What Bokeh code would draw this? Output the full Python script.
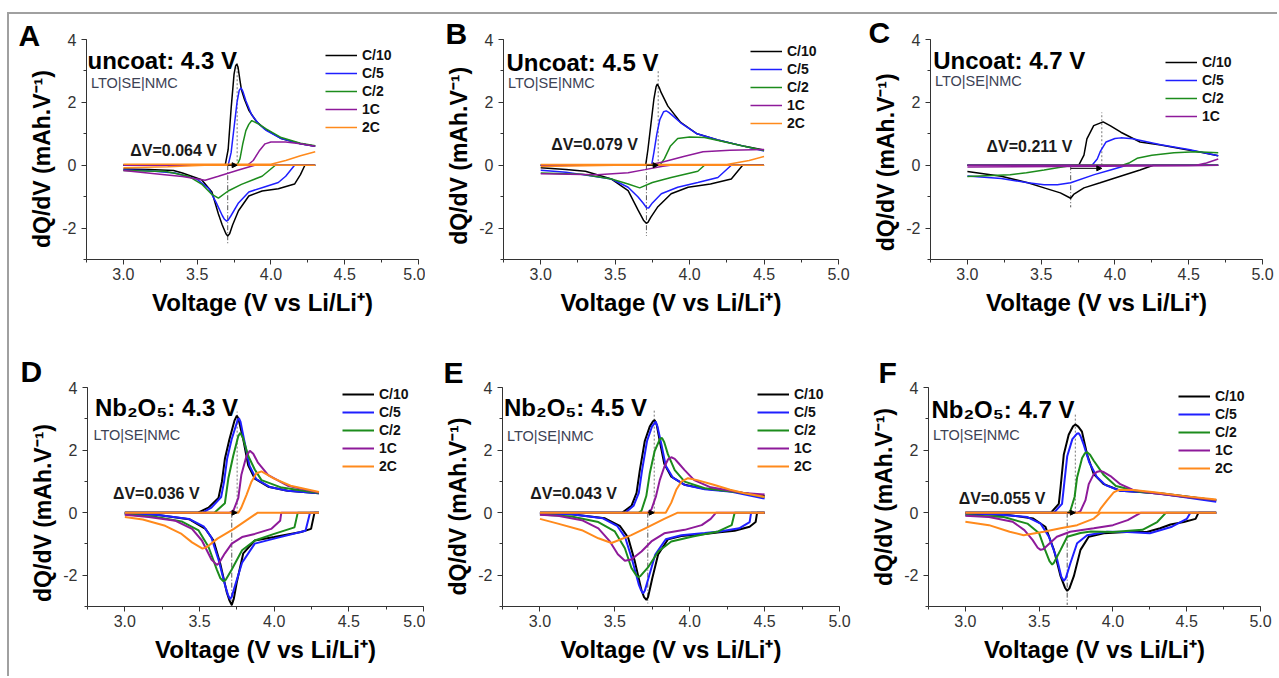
from bokeh.plotting import figure
from bokeh.layouts import row, column
from bokeh.models import (Range1d, SingleIntervalTicker, NumeralTickFormatter, Label, Title,
                          Legend, LegendItem, Arrow, NormalHead)
from bokeh.embed import file_html
from bokeh.resources import INLINE

# ---------------- data (V vs Li/Li+, dQ/dV in mAh/V) ----------------
RATES = ["C/10", "C/5", "C/2", "1C", "2C"]

# Panel A : uncoat 4.3 V
A_C10_chg = [(3.0,0),(3.69,0),(3.71,0.5),(3.73,1.8),(3.75,2.9),(3.76,3.15),(3.768,3.22),(3.777,3.12),(3.79,2.7),(3.80,2.4),(3.82,2.1),(3.85,1.75),(3.9,1.4),(3.96,1.15),(4.07,0.85),(4.2,0.68),(4.3,0.6)]
A_C10_dis = [(4.3,0),(4.23,0),(4.2,-0.3),(4.16,-0.6),(4.05,-0.75),(3.94,-0.82),(3.85,-0.98),(3.78,-1.45),(3.74,-1.9),(3.72,-2.18),(3.707,-2.25),(3.695,-2.18),(3.67,-1.9),(3.644,-1.55),(3.6,-0.85),(3.53,-0.46),(3.4,-0.25),(3.34,-0.17),(3.17,-0.14),(3.0,-0.12)]
A_C5_chg = [(3.0,0),(3.71,0),(3.73,0.4),(3.75,1.2),(3.77,2.0),(3.785,2.38),(3.797,2.46),(3.81,2.35),(3.83,2.05),(3.87,1.6),(3.92,1.3),(3.97,1.1),(4.07,0.85),(4.2,0.68),(4.3,0.6)]
A_C5_dis = [(4.3,0),(4.16,0),(4.1,-0.35),(4.05,-0.55),(3.95,-0.7),(3.85,-0.85),(3.78,-1.2),(3.73,-1.6),(3.71,-1.75),(3.70,-1.78),(3.685,-1.72),(3.67,-1.6),(3.63,-1.2),(3.58,-0.75),(3.5,-0.45),(3.35,-0.25),(3.15,-0.17),(3.0,-0.15)]
A_C2_chg = [(3.0,0),(3.77,0),(3.79,0.2),(3.81,0.7),(3.83,1.1),(3.85,1.3),(3.87,1.42),(3.92,1.3),(3.97,1.15),(4.07,0.88),(4.2,0.7),(4.3,0.62)]
A_C2_dis = [(4.3,0),(4.03,0),(3.94,-0.35),(3.8,-0.61),(3.71,-0.82),(3.644,-1.05),(3.60,-0.93),(3.53,-0.6),(3.44,-0.35),(3.29,-0.2),(3.0,-0.17)]
A_1C_chg = [(3.0,0),(3.84,0),(3.88,0.15),(3.92,0.45),(3.96,0.68),(4.0,0.74),(4.1,0.74),(4.2,0.68),(4.3,0.6)]
A_1C_dis = [(4.3,0),(3.89,0),(3.78,-0.15),(3.644,-0.35),(3.554,-0.48),(3.4,-0.36),(3.28,-0.3),(3.0,-0.17)]
A_2C_chg = [(3.0,0.03),(4.0,0.03),(4.1,0.15),(4.2,0.3),(4.3,0.43)]
A_2C_dis = [(4.3,0),(3.55,0),(3.3,-0.05),(3.0,-0.08)]

# Panel B : uncoat 4.5 V
B_C10_chg = [(3.0,0),(3.705,0),(3.72,0.5),(3.74,1.3),(3.76,2.1),(3.775,2.5),(3.783,2.58),(3.795,2.48),(3.81,2.3),(3.854,1.88),(3.94,1.36),(4.05,1.0),(4.19,0.8),(4.37,0.6),(4.5,0.48)]
B_C10_dis = [(4.5,0),(4.356,0),(4.28,-0.44),(4.14,-0.6),(3.99,-0.7),(3.876,-0.91),(3.787,-1.32),(3.74,-1.65),(3.72,-1.82),(3.709,-1.85),(3.69,-1.75),(3.654,-1.43),(3.587,-0.81),(3.475,-0.44),(3.3,-0.19),(3.17,-0.14),(3.0,-0.08)]
B_C5_chg = [(3.0,0),(3.745,0),(3.76,0.4),(3.78,1.0),(3.80,1.45),(3.825,1.7),(3.843,1.73),(3.86,1.68),(3.88,1.6),(3.94,1.35),(4.05,1.0),(4.19,0.8),(4.37,0.6),(4.5,0.45)]
B_C5_dis = [(4.5,0),(4.28,0),(4.19,-0.39),(4.055,-0.55),(3.92,-0.7),(3.81,-0.91),(3.75,-1.2),(3.725,-1.36),(3.71,-1.35),(3.69,-1.22),(3.654,-1.01),(3.587,-0.7),(3.475,-0.44),(3.17,-0.22),(3.0,-0.16)]
B_C2_chg = [(3.0,0),(3.80,0),(3.83,0.2),(3.87,0.6),(3.92,0.85),(4.0,0.9),(4.1,0.88),(4.2,0.78),(4.35,0.62),(4.5,0.47)]
B_C2_dis = [(4.5,0),(4.1,0),(4.055,-0.19),(3.876,-0.39),(3.75,-0.55),(3.665,-0.72),(3.587,-0.6),(3.475,-0.44),(3.28,-0.29),(3.0,-0.25)]
B_1C_chg = [(3.0,0),(3.72,0),(3.82,0.1),(3.96,0.28),(4.09,0.43),(4.27,0.48),(4.5,0.5)]
B_1C_dis = [(4.5,0),(3.87,0),(3.82,-0.03),(3.70,-0.14),(3.587,-0.24),(3.38,-0.3),(3.0,-0.27)]
B_2C_chg = [(3.0,0.02),(4.25,0.02),(4.4,0.15),(4.5,0.28)]
B_2C_dis = [(4.5,0),(3.5,0),(3.0,-0.04)]

# Panel C : uncoat 4.7 V (no 2C)
C_C10_chg = [(3.0,0),(3.755,0),(3.79,0.32),(3.81,0.84),(3.856,1.26),(3.92,1.38),(3.97,1.25),(4.04,1.05),(4.17,0.74),(4.31,0.64),(4.44,0.53),(4.6,0.4),(4.7,0.3)]
C_C10_dis = [(4.7,0),(4.26,0),(4.17,-0.15),(4.037,-0.35),(3.9,-0.56),(3.79,-0.72),(3.72,-0.93),(3.70,-1.05),(3.63,-0.88),(3.52,-0.72),(3.41,-0.56),(3.23,-0.35),(3.0,-0.2)]
C_C5_chg = [(3.0,0),(3.845,0),(3.88,0.2),(3.9,0.43),(3.94,0.74),(4.0,0.85),(4.04,0.87),(4.12,0.84),(4.31,0.65),(4.5,0.5),(4.7,0.3)]
C_C5_dis = [(4.7,0),(4.08,0),(3.97,-0.15),(3.86,-0.3),(3.7,-0.56),(3.61,-0.62),(3.52,-0.62),(3.41,-0.56),(3.23,-0.42),(3.0,-0.34)]
C_C2_chg = [(3.0,0),(4.05,0),(4.1,0.08),(4.15,0.22),(4.25,0.32),(4.4,0.4),(4.55,0.43),(4.7,0.4)]
C_C2_dis = [(4.7,0),(3.72,0),(3.62,-0.07),(3.52,-0.15),(3.4,-0.24),(3.29,-0.3),(3.0,-0.36)]
C_1C_chg = [(3.0,0),(4.55,0),(4.62,0.07),(4.7,0.2)]
C_1C_dis = [(4.7,0),(4.5,-0.02),(3.0,-0.06)]

# Panel D : Nb2O5 4.3 V
D_C10_chg = [(3.0,0),(3.49,0),(3.56,0.16),(3.627,0.47),(3.65,0.99),(3.67,1.72),(3.70,2.34),(3.735,2.95),(3.75,3.1),(3.76,3.02),(3.793,2.34),(3.826,1.51),(3.87,1.09),(3.96,0.83),(4.09,0.7),(4.3,0.62)]
D_C10_dis = [(4.3,0),(4.27,0),(4.247,-0.52),(4.18,-0.62),(4.0,-0.78),(3.87,-0.89),(3.793,-1.3),(3.749,-2.24),(3.73,-2.75),(3.716,-2.95),(3.70,-2.8),(3.683,-2.55),(3.638,-1.61),(3.594,-0.89),(3.54,-0.52),(3.43,-0.21),(3.21,-0.07),(3.0,-0.03)]
D_C5_chg = [(3.0,0),(3.52,0),(3.58,0.16),(3.645,0.5),(3.665,1.0),(3.685,1.72),(3.715,2.34),(3.755,2.95),(3.764,3.02),(3.775,2.9),(3.80,2.3),(3.835,1.5),(3.88,1.07),(3.97,0.82),(4.09,0.7),(4.3,0.62)]
D_C5_dis = [(4.3,0),(4.24,0),(4.21,-0.58),(4.0,-0.83),(3.87,-0.99),(3.785,-1.6),(3.74,-2.3),(3.715,-2.7),(3.704,-2.76),(3.69,-2.62),(3.67,-2.3),(3.627,-1.5),(3.58,-0.8),(3.53,-0.45),(3.43,-0.2),(3.21,-0.07),(3.0,-0.03)]
D_C2_chg = [(3.0,0),(3.6,0),(3.67,0.3),(3.693,1.09),(3.726,1.82),(3.76,2.45),(3.773,2.55),(3.79,2.4),(3.826,1.82),(3.87,1.38),(3.915,1.04),(4.05,0.8),(4.3,0.63)]
D_C2_dis = [(4.3,0),(4.158,0),(4.136,-0.47),(4.0,-0.68),(3.87,-0.89),(3.785,-1.2),(3.716,-1.82),(3.675,-2.15),(3.66,-2.19),(3.64,-2.1),(3.616,-1.82),(3.56,-1.09),(3.494,-0.57),(3.38,-0.28),(3.21,-0.14),(3.0,-0.05)]
D_1C_chg = [(3.0,0),(3.7,0),(3.726,0.05),(3.76,0.47),(3.78,1.2),(3.815,1.82),(3.837,1.98),(3.86,1.88),(3.89,1.61),(3.96,1.2),(4.09,0.86),(4.3,0.64)]
D_1C_dis = [(4.3,0),(4.048,0),(4.04,-0.26),(3.98,-0.52),(3.87,-0.68),(3.785,-0.78),(3.716,-0.99),(3.67,-1.3),(3.63,-1.62),(3.616,-1.67),(3.58,-1.5),(3.516,-0.89),(3.45,-0.52),(3.34,-0.26),(3.16,-0.14),(3.0,-0.07)]
D_2C_chg = [(3.0,0),(3.76,0),(3.78,0.16),(3.815,0.57),(3.848,0.99),(3.88,1.25),(3.915,1.32),(4.0,1.09),(4.11,0.86),(4.3,0.66)]
D_2C_dis = [(4.3,0),(3.89,0),(3.73,-0.52),(3.62,-0.83),(3.55,-1.1),(3.52,-1.15),(3.45,-0.95),(3.38,-0.68),(3.27,-0.42),(3.12,-0.22),(3.0,-0.14)]

# Panel E : Nb2O5 4.5 V
E_C10_chg = [(3.0,0),(3.55,0),(3.611,0.22),(3.645,0.63),(3.667,1.36),(3.70,2.29),(3.733,2.75),(3.755,2.92),(3.766,2.96),(3.78,2.8),(3.80,2.29),(3.83,1.56),(3.877,1.15),(3.966,0.89),(4.1,0.76),(4.28,0.68),(4.5,0.53)]
E_C10_dis = [(4.5,0),(4.45,0),(4.44,-0.3),(4.4,-0.45),(4.3,-0.58),(4.2,-0.63),(4.1,-0.68),(3.944,-0.75),(3.855,-0.85),(3.789,-1.34),(3.75,-2.1),(3.722,-2.7),(3.711,-2.79),(3.695,-2.7),(3.678,-2.48),(3.633,-1.55),(3.589,-0.8),(3.533,-0.42),(3.434,-0.18),(3.21,-0.05),(3.0,-0.03)]
E_C5_chg = [(3.0,0),(3.57,0),(3.625,0.22),(3.66,0.63),(3.682,1.36),(3.715,2.29),(3.748,2.75),(3.773,2.91),(3.785,2.75),(3.81,2.2),(3.84,1.5),(3.887,1.12),(3.97,0.88),(4.1,0.75),(4.28,0.67),(4.5,0.45)]
E_C5_dis = [(4.5,0),(4.41,0),(4.4,-0.3),(4.33,-0.5),(4.2,-0.6),(4.1,-0.65),(3.944,-0.72),(3.84,-0.85),(3.77,-1.34),(3.73,-2.0),(3.70,-2.5),(3.69,-2.58),(3.675,-2.48),(3.66,-2.3),(3.615,-1.5),(3.57,-0.8),(3.515,-0.42),(3.42,-0.18),(3.21,-0.05),(3.0,-0.03)]
E_C2_chg = [(3.0,0),(3.66,0),(3.678,0.06),(3.71,0.53),(3.733,1.25),(3.766,1.97),(3.80,2.34),(3.815,2.39),(3.83,2.25),(3.854,1.87),(3.9,1.36),(3.966,0.99),(4.1,0.78),(4.36,0.63),(4.5,0.5)]
E_C2_dis = [(4.5,0),(4.3,0),(4.28,-0.4),(4.19,-0.6),(4.02,-0.76),(3.877,-0.92),(3.79,-1.24),(3.72,-1.76),(3.67,-2.03),(3.656,-2.06),(3.64,-1.98),(3.61,-1.76),(3.567,-1.14),(3.5,-0.6),(3.39,-0.3),(3.21,-0.12),(3.0,-0.06)]
E_1C_chg = [(3.0,0),(3.72,0),(3.744,0.1),(3.775,0.53),(3.80,1.04),(3.83,1.46),(3.855,1.7),(3.877,1.77),(3.9,1.72),(3.92,1.61),(3.966,1.36),(4.03,1.04),(4.14,0.81),(4.36,0.63),(4.5,0.58)]
E_1C_dis = [(4.5,0),(4.176,0),(4.14,-0.2),(4.08,-0.4),(3.966,-0.55),(3.83,-0.66),(3.744,-0.92),(3.678,-1.24),(3.61,-1.5),(3.567,-1.54),(3.52,-1.33),(3.467,-0.92),(3.39,-0.5),(3.28,-0.24),(3.12,-0.1),(3.0,-0.07)]
E_2C_chg = [(3.0,0),(3.84,0),(3.877,0.32),(3.91,0.73),(3.944,0.99),(3.988,1.1),(4.05,1.04),(4.16,0.89),(4.27,0.73),(4.36,0.63),(4.5,0.5)]
E_2C_dis = [(4.5,0),(3.92,0),(3.83,-0.2),(3.72,-0.46),(3.61,-0.72),(3.478,-0.97),(3.39,-0.82),(3.28,-0.56),(3.12,-0.35),(3.0,-0.2)]

# Panel F : Nb2O5 4.7 V
F_C10_chg = [(3.0,0),(3.58,0),(3.633,0.28),(3.645,0.81),(3.667,1.86),(3.70,2.49),(3.73,2.76),(3.746,2.82),(3.765,2.75),(3.79,2.59),(3.825,1.86),(3.87,1.23),(3.938,0.91),(4.05,0.70),(4.21,0.65),(4.32,0.62),(4.5,0.52),(4.7,0.39)]
F_C10_dis = [(4.7,0),(4.58,0),(4.56,-0.2),(4.48,-0.3),(4.39,-0.38),(4.32,-0.5),(4.23,-0.62),(4.09,-0.62),(3.938,-0.66),(3.836,-0.77),(3.78,-1.19),(3.735,-2.03),(3.705,-2.42),(3.69,-2.5),(3.675,-2.4),(3.645,-2.03),(3.6,-1.19),(3.542,-0.45),(3.46,-0.19),(3.3,-0.08),(3.0,-0.03)]
F_C5_chg = [(3.0,0),(3.6,0),(3.655,0.28),(3.667,0.81),(3.69,1.8),(3.725,2.35),(3.755,2.52),(3.768,2.54),(3.78,2.45),(3.80,2.2),(3.84,1.6),(3.89,1.15),(3.95,0.88),(4.05,0.7),(4.21,0.65),(4.32,0.6),(4.5,0.48),(4.7,0.35)]
F_C5_dis = [(4.7,0),(4.525,0),(4.5,-0.2),(4.4,-0.45),(4.25,-0.66),(4.1,-0.62),(3.96,-0.61),(3.825,-0.72),(3.757,-0.98),(3.712,-1.61),(3.68,-2.1),(3.667,-2.18),(3.65,-2.05),(3.622,-1.5),(3.566,-0.77),(3.51,-0.35),(3.42,-0.14),(3.2,-0.05),(3.0,-0.03)]
F_C2_chg = [(3.0,0),(3.7,0),(3.712,0.07),(3.74,0.5),(3.757,1.12),(3.791,1.75),(3.81,1.9),(3.825,1.93),(3.845,1.85),(3.87,1.66),(3.938,1.2),(4.02,0.85),(4.18,0.67),(4.32,0.6),(4.5,0.5),(4.7,0.4)]
F_C2_dis = [(4.7,0),(4.36,0),(4.3,-0.3),(4.2,-0.55),(4.0,-0.62),(3.85,-0.6),(3.78,-0.65),(3.69,-0.77),(3.645,-1.19),(3.6,-1.6),(3.588,-1.66),(3.57,-1.55),(3.54,-1.19),(3.5,-0.66),(3.42,-0.35),(3.26,-0.14),(3.0,-0.08)]
F_1C_chg = [(3.0,0),(3.76,0),(3.78,0.05),(3.814,0.4),(3.836,0.91),(3.87,1.23),(3.895,1.31),(3.915,1.33),(3.94,1.29),(3.983,1.17),(4.05,0.91),(4.14,0.72),(4.28,0.62),(4.5,0.5),(4.7,0.4)]
F_1C_dis = [(4.7,0),(4.19,0),(4.1,-0.24),(4.0,-0.4),(3.87,-0.5),(3.71,-0.61),(3.62,-0.77),(3.566,-1.0),(3.53,-1.16),(3.51,-1.19),(3.49,-1.12),(3.455,-0.87),(3.4,-0.56),(3.32,-0.29),(3.16,-0.14),(3.0,-0.1)]
F_2C_chg = [(3.0,0),(3.9,0),(3.915,0.12),(3.96,0.39),(4.005,0.65),(4.04,0.73),(4.14,0.72),(4.28,0.65),(4.5,0.52),(4.7,0.42)]
F_2C_dis = [(4.7,0),(3.915,0),(3.87,-0.19),(3.757,-0.4),(3.645,-0.5),(3.53,-0.61),(3.395,-0.72),(3.3,-0.61),(3.16,-0.4),(3.0,-0.29)]

PANEL_LETTERS = ["A", "B", "C", "D", "E", "F"]
PANEL_TITLES = ["uncoat: 4.3 V", "Uncoat: 4.5 V", "Uncoat: 4.7 V",
                "Nb\u2082O\u2085: 4.3 V", "Nb\u2082O\u2085: 4.5 V", "Nb\u2082O\u2085: 4.7 V"]
CELL_LABEL = "LTO|SE|NMC"
DELTA_V = ["0.064", "0.079", "0.211", "0.036", "0.043", "0.055"]
PEAK_DIS_V = [3.707, 3.710, 3.700, 3.716, 3.720, 3.690]
PEAK_CHG_V = [3.771, 3.789, 3.911, 3.752, 3.763, 3.745]
X_LABEL = "Voltage (V vs Li/Li\u207a)"
Y_LABEL = "dQ/dV (mAh.V\u207b\u00b9)"

PANEL_CURVES = [
    {"C/10": (A_C10_chg, A_C10_dis), "C/5": (A_C5_chg, A_C5_dis), "C/2": (A_C2_chg, A_C2_dis), "1C": (A_1C_chg, A_1C_dis), "2C": (A_2C_chg, A_2C_dis)},
    {"C/10": (B_C10_chg, B_C10_dis), "C/5": (B_C5_chg, B_C5_dis), "C/2": (B_C2_chg, B_C2_dis), "1C": (B_1C_chg, B_1C_dis), "2C": (B_2C_chg, B_2C_dis)},
    {"C/10": (C_C10_chg, C_C10_dis), "C/5": (C_C5_chg, C_C5_dis), "C/2": (C_C2_chg, C_C2_dis), "1C": (C_1C_chg, C_1C_dis)},
    {"C/10": (D_C10_chg, D_C10_dis), "C/5": (D_C5_chg, D_C5_dis), "C/2": (D_C2_chg, D_C2_dis), "1C": (D_1C_chg, D_1C_dis), "2C": (D_2C_chg, D_2C_dis)},
    {"C/10": (E_C10_chg, E_C10_dis), "C/5": (E_C5_chg, E_C5_dis), "C/2": (E_C2_chg, E_C2_dis), "1C": (E_1C_chg, E_1C_dis), "2C": (E_2C_chg, E_2C_dis)},
    {"C/10": (F_C10_chg, F_C10_dis), "C/5": (F_C5_chg, F_C5_dis), "C/2": (F_C2_chg, F_C2_dis), "1C": (F_1C_chg, F_1C_dis), "2C": (F_2C_chg, F_2C_dis)},
]

# ---------------- styling / layout ----------------
FONT = "Liberation Sans"
COLORS = {"C/10": "#000000", "C/5": "#1f1fff", "C/2": "#1c8c1c", "1C": "#8e1a9a", "2C": "#ff8a1c"}
NBSP = "\u00a0"

# (width, height, left, right, top, bottom) borders in px
GEOM = [(416, 316, 77, 7, 25, 68), (427, 316, 78, 14, 21, 71), (425, 316, 78, 15, 25, 67),
        (416, 346, 78, 2, 52, 70), (427, 346, 77, 13, 53, 68), (425, 346, 76, 17, 57, 67)]
LINE_W = [1.5, 1.5, 1.5, 2.0, 2.0, 2.0]
# panel letter: (offset from frame left, standoff) for a Title placed above the frame
LETTER_TITLE = [(-68, -24), (-58, -20), (-62, -18), (-67, 0), (-59, -2), (-50, -2)]
# padding (non-breaking spaces) that shifts the axis labels off-centre like the reference
XLABEL_PAD = [3, 0, 0, 3, 0, 0]
YLABEL_PAD = [3, 2, 4, 5, 3, 0]
TITLE_POS = [(2.757, 3.34), (2.77, 3.28), (2.768, 3.34), (2.80, 3.35), (2.76, 3.35), (2.77, 3.31)]
CELL_POS = [(2.78, 2.63), (2.78, 2.63), (2.78, 2.67), (2.79, 2.48), (2.78, 2.46), (2.78, 2.49)]
DV_POS = [(3.047, 0.47), (3.07, 0.66), (3.13, 0.59), (2.92, 0.6), (2.936, 0.61), (2.955, 0.44)]
DASH_EXT = [(-2.53, 3.3), (-2.25, 3.0), (-1.34, 1.68), (-3.0, 3.23), (-2.9, 3.3), (-2.95, 3.17)]
ARROW_Y = [0.0, 0.0, -0.1, 0.0, 0.0, 0.0]
LEG_POS = [(239, 10), (247, 7), (235, 18), (255, 3), (255, 4), (250, 3)]
ROW_H = 18


def make_panel(i):
    w, h, bl, br, bt, bb = GEOM[i]
    frame_h = h - bt - bb
    p = figure(width=w, height=h, x_range=Range1d(2.75, 5.0), y_range=Range1d(-3, 4),
               output_backend="svg", toolbar_location=None,
               min_border_left=bl, min_border_right=br, min_border_top=bt, min_border_bottom=bb)
    p.outline_line_color = None
    p.grid.visible = False
    p.background_fill_color = "white"
    p.border_fill_color = "white"

    p.xaxis.ticker = SingleIntervalTicker(interval=0.5, num_minor_ticks=2)
    p.yaxis.ticker = SingleIntervalTicker(interval=2, num_minor_ticks=2)
    p.xaxis.formatter = NumeralTickFormatter(format="0.0")
    p.yaxis.formatter = NumeralTickFormatter(format="0")
    p.xaxis.axis_label = NBSP * XLABEL_PAD[i] + X_LABEL
    p.yaxis.axis_label = Y_LABEL + NBSP * YLABEL_PAD[i]
    for ax in (p.xaxis[0], p.yaxis[0]):
        ax.axis_line_color = "#333333"
        ax.major_tick_line_color = "#333333"
        ax.minor_tick_line_color = "#333333"
        ax.major_tick_in = 0
        ax.major_tick_out = 5
        ax.minor_tick_in = 0
        ax.minor_tick_out = 3
        ax.major_label_text_font = FONT
        ax.major_label_text_font_size = "16px"
        ax.major_label_text_color = "#333333"
        ax.axis_label_text_font = FONT
        ax.axis_label_text_font_style = "bold"
        ax.axis_label_text_color = "#000000"
    p.xaxis.major_label_standoff = 3
    p.xaxis.axis_label_standoff = 6
    p.xaxis.axis_label_text_font_size = "24px"
    p.yaxis.major_label_standoff = 5
    p.yaxis.axis_label_standoff = 4
    p.yaxis.axis_label_text_font_size = "23px"

    # panel letter as a title above the frame, shifted to the left of the y axis
    off, stand = LETTER_TITLE[i]
    p.add_layout(Title(text=PANEL_LETTERS[i], align="left", offset=off, standoff=stand,
                       vertical_align="bottom", text_font=FONT, text_font_style="bold",
                       text_font_size="30px", text_color="#000000"), "above")

    # peak markers
    dis_v, chg_v = PEAK_DIS_V[i], PEAK_CHG_V[i]
    lo, hi = DASH_EXT[i]
    p.segment(x0=[dis_v], y0=[0], x1=[dis_v], y1=[lo], line_color="#555555", line_width=1, line_dash="5 2 1 2")
    p.segment(x0=[chg_v], y0=[0], x1=[chg_v], y1=[hi], line_color="#777777", line_width=1, line_dash="2 2")

    curves = PANEL_CURVES[i]
    items = []
    for rate in RATES:
        if rate not in curves:
            continue
        chg, dis = curves[rate]
        rc = p.line([v for v, q in chg], [q for v, q in chg], line_color=COLORS[rate], line_width=LINE_W[i])
        p.line([v for v, q in dis], [q for v, q in dis], line_color=COLORS[rate], line_width=LINE_W[i])
        items.append(LegendItem(label=rate, renderers=[rc]))

    p.add_layout(Arrow(end=NormalHead(size=5, fill_color="black", line_color="black"),
                       x_start=dis_v, y_start=ARROW_Y[i], x_end=chg_v, y_end=ARROW_Y[i],
                       line_color="black", line_width=1))

    lx, ltop = LEG_POS[i]
    n = len(items)
    legend = Legend(items=items, location=(lx, frame_h - ltop - n * ROW_H),
                    glyph_width=32, glyph_height=ROW_H, label_height=ROW_H, label_standoff=5,
                    spacing=0, padding=0, margin=0, background_fill_alpha=0, border_line_alpha=0,
                    label_text_font=FONT, label_text_font_style="bold", label_text_font_size="14px",
                    label_text_color="#111111")
    p.add_layout(legend)

    p.add_layout(Label(x=TITLE_POS[i][0], y=TITLE_POS[i][1], text=PANEL_TITLES[i],
                       text_font=FONT, text_font_style="bold", text_font_size="24px",
                       text_baseline="alphabetic", text_align="left", text_color="#000000"))
    p.add_layout(Label(x=CELL_POS[i][0], y=CELL_POS[i][1], text=CELL_LABEL,
                       text_font=FONT, text_font_size="14.5px",
                       text_baseline="alphabetic", text_align="left", text_color="#3c4254"))
    p.add_layout(Label(x=DV_POS[i][0], y=DV_POS[i][1], text="\u0394V=" + DELTA_V[i] + " V",
                       text_font=FONT, text_font_style="bold", text_font_size="16px",
                       text_baseline="middle", text_align="left", text_color="#1a1a1a"))
    return p


panels = [make_panel(i) for i in range(6)]
layout = column(row(*panels[:3]), row(*panels[3:]),
                styles={"border-top": "2px solid #a0a0a0", "border-left": "2px solid #a0a0a0",
                        "margin-top": "12px", "margin-left": "7px"})

open("out.html", "w").write(file_html(layout, INLINE))
